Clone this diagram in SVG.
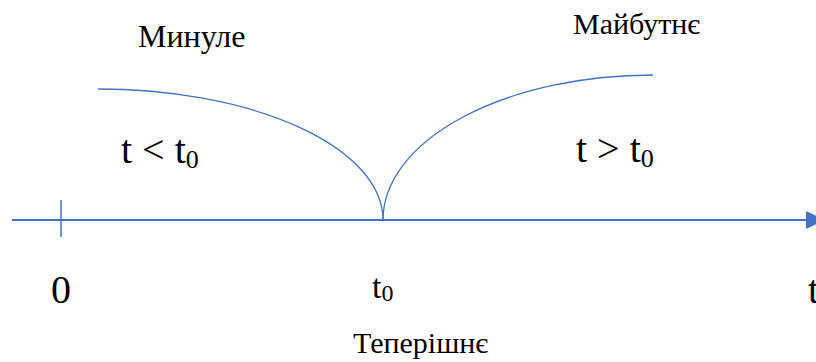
<svg xmlns="http://www.w3.org/2000/svg" width="816" height="362" viewBox="0 0 816 362">
<style>
.ln{fill:none;stroke:#4472C4}
text{font-family:'Liberation Serif','Times New Roman',serif;fill:#000}
.lab{font-size:30px}
.big{font-size:40px}
.sub{font-size:26px}
</style>
<rect width="816" height="362" fill="#fff"/>
<g id="connectors">
<line class="ln" x1="12" y1="220" x2="808" y2="220" stroke-width="2"/>
<polygon points="806,211 825,220 806,229" fill="#4472C4"/>
<line class="ln" x1="61" y1="200" x2="61" y2="237" stroke-width="1.5"/>
<path class="ln" d="M98 89 A285 131 0 0 1 383 220" stroke-width="1.3"/>
<path class="ln" d="M383 220 A270 145 0 0 1 653 75" stroke-width="1.3"/>
</g>
<g id="past"><text class="lab" style="font-size:32px" x="138" y="47">Минуле</text></g>
<g id="future"><text class="lab" x="573" y="34">Майбутнє</text></g>
<g id="present"><text class="lab" x="353" y="353">Теперішнє</text></g>
<g id="lt"><text class="big" x="121" y="163">t &lt; t<tspan class="sub" dy="5">0</tspan></text></g>
<g id="gt"><text class="big" x="576" y="162">t &gt; t<tspan class="sub" dy="5">0</tspan></text></g>
<g id="zero"><text class="big" x="61" y="303" text-anchor="middle">0</text></g>
<g id="t0"><text style="font-size:34px" x="372" y="298">t<tspan style="font-size:24px" dy="3">0</tspan></text></g>
<g id="taxis"><text class="big" x="808" y="303">t</text></g>
</svg>
